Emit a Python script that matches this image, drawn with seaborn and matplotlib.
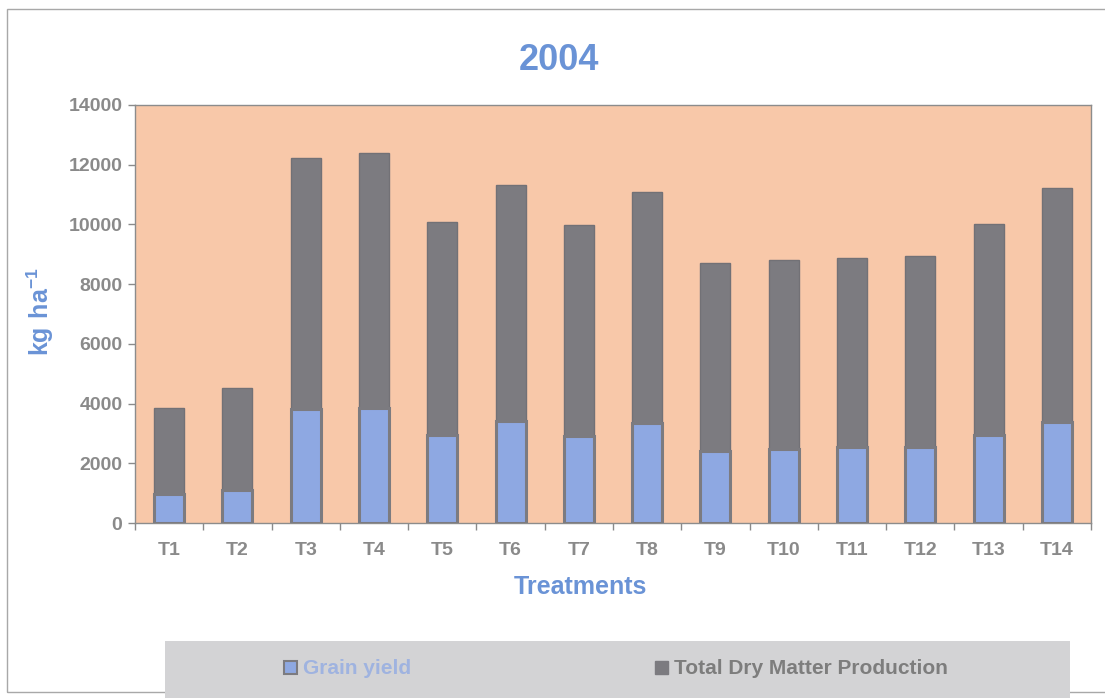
import matplotlib
matplotlib.use("Agg")
import matplotlib.pyplot as plt
from matplotlib.patches import Rectangle, Patch
import seaborn as sns
import pandas as pd

treatments = ["T1", "T2", "T3", "T4", "T5", "T6", "T7",
              "T8", "T9", "T10", "T11", "T12", "T13", "T14"]
total_dry_matter = [3860, 4510, 12230, 12400, 10080, 11320, 9970,
                    11100, 8720, 8820, 8880, 8940, 10030, 11210]
grain_yield = [960, 1100, 3810, 3840, 2950, 3430, 2910,
               3340, 2410, 2480, 2530, 2560, 2950, 3390]

sns.set_theme(style="white")
plt.rcParams["font.family"] = ["Liberation Sans", "DejaVu Sans"]
plt.rcParams["font.weight"] = "bold"
plt.rcParams["mathtext.fontset"] = "custom"
plt.rcParams["mathtext.bf"] = "Liberation Sans:bold"
plt.rcParams["mathtext.rm"] = "Liberation Sans:bold"
plt.rcParams["mathtext.default"] = "bf"

BLUE_TXT = "#6a93d6"
GREY_TXT = "#8a8a8a"
BAR_GREY = "#7c7b80"
BAR_BLUE = "#8ea8e2"
PLOT_BG = "#f8c8a9"

df = pd.DataFrame({"Treatment": treatments,
                   "Total": total_dry_matter,
                   "Grain": grain_yield})

W, H = 1105, 698
fig = plt.figure(figsize=(W / 100, H / 100), dpi=100)
ax = fig.add_axes([135 / W, 1 - 523 / H, (1091 - 135) / W, (523 - 105) / H])
ax.set_facecolor(PLOT_BG)

# outer chart frame
fig.patches.append(Rectangle((7 / W, 1 - 692 / H), 1.1, (692 - 9) / H,
                             transform=fig.transFigure, facecolor="none",
                             edgecolor="#a8a8a8", linewidth=1.0, zorder=0))

sns.barplot(data=df, x="Treatment", y="Total", color=BAR_GREY, saturation=1,
            width=0.44, edgecolor="#727176", linewidth=1.0, ax=ax, zorder=2)
sns.barplot(data=df, x="Treatment", y="Grain", color=BAR_BLUE, saturation=1,
            width=0.44, edgecolor=BAR_GREY, linewidth=2.2, ax=ax, zorder=3)

ax.set_ylim(0, 14000)
ax.set_xlim(-0.5, len(treatments) - 0.5)
ax.set_yticks(range(0, 14001, 2000))
ax.tick_params(axis="y", length=5, width=1, color="#8a8a8a", labelsize=14,
               labelcolor=GREY_TXT, left=True, pad=4)
ax.tick_params(axis="x", length=0, labelsize=14, labelcolor=GREY_TXT, pad=14)
# category separators along the x axis
ax.set_xticks([i - 0.5 for i in range(len(treatments) + 1)], minor=True)
ax.tick_params(axis="x", which="minor", length=5, width=1, color="#8a8a8a",
               bottom=True, direction="out")
for lab in ax.get_xticklabels() + ax.get_yticklabels():
    lab.set_fontweight("bold")

for side in ["left", "bottom", "top", "right"]:
    ax.spines[side].set_color("#8c8c8c")
    ax.spines[side].set_linewidth(1.0)

ax.set_xlabel("Treatments", fontsize=18, fontweight="bold", color=BLUE_TXT)
ax.xaxis.set_label_coords((580 - 135) / (1091 - 135), -(575 - 523) / (523 - 105))
ax.set_ylabel("$\\mathbf{kg\\ ha^{-1}}$", fontsize=18, color=BLUE_TXT)
ax.yaxis.set_label_coords(-(135 - 56) / (1091 - 135), (523 - 312) / (523 - 105))

fig.text(559 / W, 1 - 61 / H, "2004", fontsize=26, fontweight="bold",
         color=BLUE_TXT, ha="center", va="center")

# legend panel
fig.patches.append(Rectangle((165 / W, -0.02), (1070 - 165) / W, 0.102,
                             transform=fig.transFigure, facecolor="#d3d3d5",
                             edgecolor="none", zorder=1))
entries = [
    (Patch(facecolor=BAR_BLUE, edgecolor=BAR_GREY, linewidth=1.5),
     "Grain yield", "#9fb3e0", 284),
    (Patch(facecolor=BAR_GREY, edgecolor=BAR_GREY),
     "Total Dry Matter Production", "#7d7d7d", 655),
]
for handle, label, tcolor, xpix in entries:
    leg = fig.legend([handle], [label], loc="center left",
                     bbox_to_anchor=(xpix / W, 1 - 669 / H), frameon=False,
                     fontsize=15, handlelength=0.6, handleheight=0.6,
                     handletextpad=0.3, borderaxespad=0, borderpad=0)
    leg.get_texts()[0].set_color(tcolor)
    leg.get_texts()[0].set_fontweight("bold")

fig.savefig("out.png", dpi=100)
